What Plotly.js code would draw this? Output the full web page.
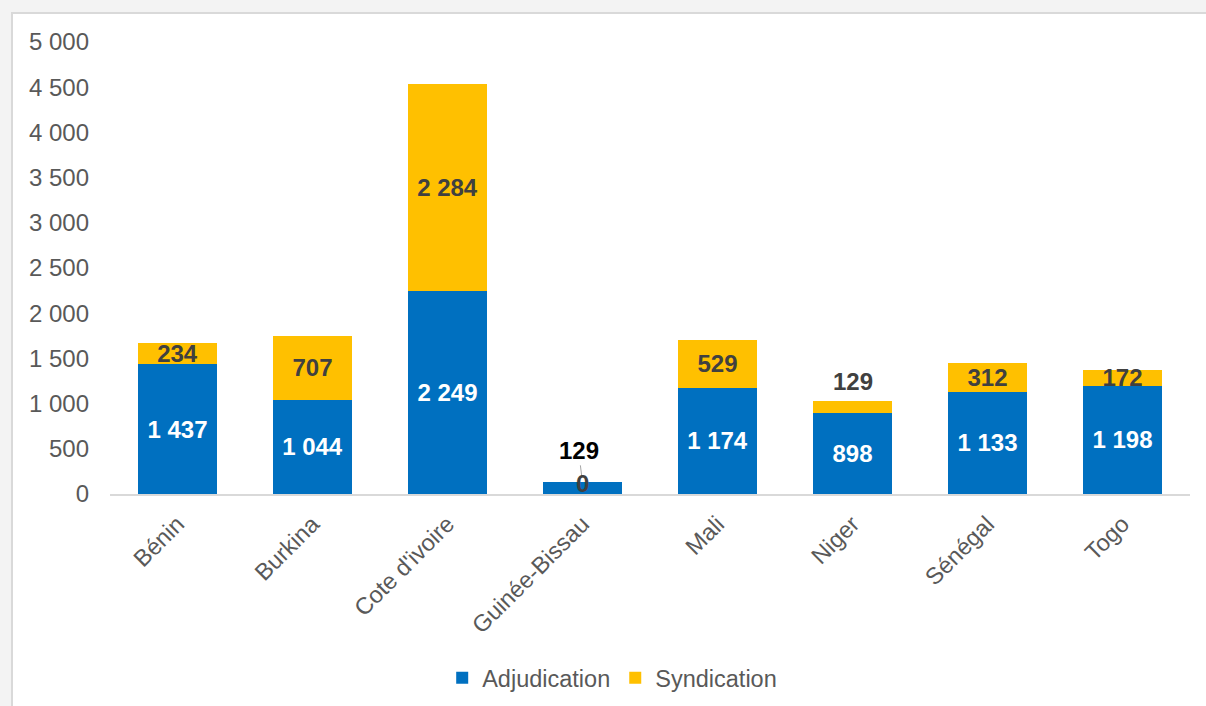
<!DOCTYPE html>
<html>
<head>
<meta charset="utf-8">
<script src="https://cdn.plot.ly/plotly-3.0.1.min.js"></script>
<style>
  html, body { margin: 0; padding: 0; width: 1206px; height: 706px; overflow: hidden; background: #f3f3f3; }
  #frame { position: absolute; left: 11px; top: 12px; width: 1195px; height: 694px; border-left: 2px solid #d9d9d9; border-top: 2px solid #d9d9d9; background: #ffffff; }
  #chart { width: 1193px; height: 692px; }
</style>
</head>
<body>
<div id="frame"><div id="chart"></div></div>
<script>
const categories = ['Bénin', 'Burkina', "Cote d'ivoire", 'Guinée-Bissau', 'Mali', 'Niger', 'Sénégal', 'Togo'];
const adjudication = [1437, 1044, 2249, 129, 1174, 898, 1133, 1198];
const syndication = [234, 707, 2284, 0, 529, 129, 312, 172];
const seriesNames = ['Adjudication', 'Syndication'];
const yTicks = [0, 500, 1000, 1500, 2000, 2500, 3000, 3500, 4000, 4500, 5000];

// labels placed outside the bars (handled as annotations)
const outsideAdj = ['Guinée-Bissau'];
const outsideSyn = ['Guinée-Bissau', 'Niger'];

function fmt(v) { return String(v).replace(/\B(?=(\d{3})+(?!\d))/g, ' '); }

const FONT = 'Liberation Sans, Arial, sans-serif';

const adjText = adjudication.map((v, i) => outsideAdj.includes(categories[i]) ? '' : fmt(v));
const synText = syndication.map((v, i) => outsideSyn.includes(categories[i]) ? '' : fmt(v));

const traces = [
  {
    type: 'bar', name: seriesNames[0], x: categories, y: adjudication,
    marker: { color: '#0070C0' },
    text: adjText, textposition: 'inside', insidetextanchor: 'middle',
    textangle: 0, constraintext: 'none',
    textfont: { family: FONT, size: 24, color: '#ffffff', weight: 'bold' },
    hoverinfo: 'x+y'
  },
  {
    type: 'bar', name: seriesNames[1], x: categories, y: syndication,
    marker: { color: '#FFC000' },
    text: synText, textposition: 'inside', insidetextanchor: 'middle',
    textangle: 0, constraintext: 'none',
    textfont: { family: FONT, size: 24, color: '#404040', weight: 'bold' },
    hoverinfo: 'x+y'
  }
];

const gb = categories.indexOf('Guinée-Bissau');
const ni = categories.indexOf('Niger');

const annotations = [
  {
    x: categories[gb], y: adjudication[gb], xref: 'x', yref: 'y',
    text: '<b>' + fmt(adjudication[gb]) + '</b>',
    showarrow: true, ax: -4, ay: -32, arrowhead: 0, arrowwidth: 1,
    arrowcolor: '#a6a6a6', standoff: 5,
    font: { family: FONT, size: 24, color: '#000000' }
  },
  {
    x: categories[gb], y: adjudication[gb] + syndication[gb], xref: 'x', yref: 'y',
    text: '<b>' + fmt(syndication[gb]) + '</b>',
    showarrow: false, yanchor: 'middle', yshift: -1,
    font: { family: FONT, size: 24, color: '#404040' }
  },
  {
    x: categories[ni], y: adjudication[ni] + syndication[ni], xref: 'x', yref: 'y',
    text: '<b>' + fmt(syndication[ni]) + '</b>',
    showarrow: false, yanchor: 'middle', yshift: 20,
    font: { family: FONT, size: 24, color: '#404040' }
  }
];

const layout = {
  width: 1193, height: 692,
  margin: { l: 97, r: 16, t: 28, b: 212, autoexpand: false },
  paper_bgcolor: '#ffffff', plot_bgcolor: '#ffffff',
  barmode: 'stack', bargap: 0.41,
  separators: ', ',
  font: { family: FONT, size: 24, color: '#595959' },
  xaxis: {
    type: 'category', tickangle: -45, showgrid: false, zeroline: false,
    showline: true, linecolor: '#d9d9d9', linewidth: 2,
    ticks: '', ticklabelstandoff: 5, automargin: false,
    tickfont: { family: FONT, size: 23.5, color: '#595959' }
  },
  yaxis: {
    range: [0, 5000], tickvals: yTicks, ticktext: yTicks.map(fmt),
    showgrid: false, zeroline: false, showline: false, ticks: '',
    ticklabelstandoff: 20, automargin: false,
    tickfont: { family: FONT, size: 24, color: '#595959' }
  },
  legend: {
    orientation: 'h', x: 0.465, xanchor: 'center', y: -0.407, yanchor: 'middle',
    font: { family: FONT, size: 23.5, color: '#595959' }, itemwidth: 30,
    traceorder: 'normal'
  },
  annotations: annotations,
  showlegend: true
};

Plotly.newPlot('chart', traces, layout, { displayModeBar: false, staticPlot: true });
</script>
</body>
</html>
